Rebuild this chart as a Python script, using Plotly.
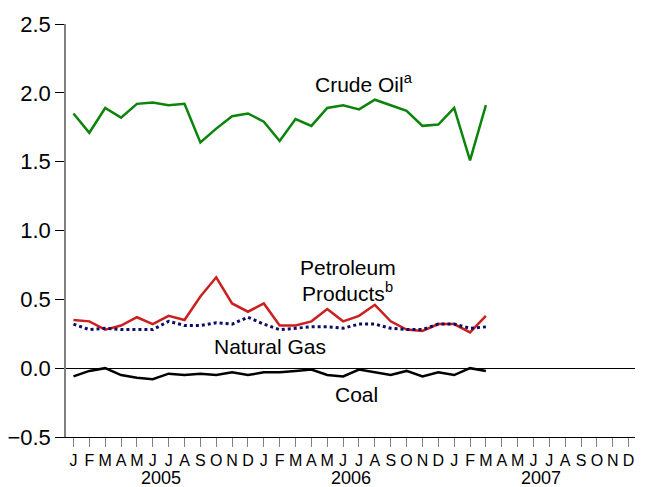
import plotly.graph_objects as go

months = ["J", "F", "M", "A", "M", "J", "J", "A", "S", "O", "N", "D"] * 3
years = ["2005", "2006", "2007"]

crude_oil = [1.85, 1.71, 1.89, 1.82, 1.92, 1.93, 1.91, 1.92, 1.64, 1.74, 1.83, 1.85,
             1.79, 1.65, 1.81, 1.76, 1.89, 1.91, 1.88, 1.95, 1.91, 1.87, 1.76, 1.77,
             1.89, 1.51, 1.91]
petroleum = [0.35, 0.34, 0.28, 0.31, 0.37, 0.32, 0.38, 0.35, 0.52, 0.66, 0.47, 0.41,
             0.47, 0.31, 0.31, 0.34, 0.43, 0.34, 0.38, 0.46, 0.34, 0.28, 0.27, 0.32,
             0.32, 0.26, 0.38]
natural_gas = [0.32, 0.28, 0.29, 0.28, 0.28, 0.28, 0.34, 0.31, 0.31, 0.33, 0.32, 0.37,
               0.32, 0.28, 0.29, 0.30, 0.30, 0.29, 0.32, 0.32, 0.29, 0.28, 0.28, 0.32,
               0.32, 0.29, 0.30]
coal = [-0.06, -0.02, 0.00, -0.05, -0.07, -0.08, -0.04, -0.05, -0.04, -0.05, -0.03, -0.05,
        -0.03, -0.03, -0.02, -0.01, -0.05, -0.06, -0.01, -0.03, -0.05, -0.02, -0.06, -0.03,
        -0.05, 0.00, -0.02]

x = list(range(len(crude_oil)))

fig = go.Figure()
fig.add_trace(go.Scatter(x=x, y=crude_oil, mode="lines", line=dict(color="#0a840a", width=2.5)))
fig.add_trace(go.Scatter(x=x, y=petroleum, mode="lines", line=dict(color="#cc1f1f", width=2.5)))
fig.add_trace(go.Scatter(x=x, y=natural_gas, mode="lines",
                         line=dict(color="#0d0d66", width=3, dash="dot")))
fig.add_trace(go.Scatter(x=x, y=coal, mode="lines", line=dict(color="black", width=2.5)))

font = dict(family="Liberation Sans, Arial", color="black")

# page body has an 8px margin, so shift the figure up/left by that much
fig.update_layout(
    width=639, height=479,
    margin=dict(l=58, r=12, t=16, b=50, autoexpand=False),
    plot_bgcolor="white", paper_bgcolor="white",
    showlegend=False,
    font=font,
    xaxis=dict(range=[-0.47, 35.4], tickmode="array", tickvals=list(range(36)),
               ticktext=months, showgrid=False, zeroline=False,
               showline=True, linecolor="black", linewidth=1,
               ticks="outside", ticklen=9, tickcolor="#808080",
               tickfont=dict(size=16, **font)),
    yaxis=dict(range=[-0.5, 2.5], tickvals=[-0.5, 0, 0.5, 1.0, 1.5, 2.0, 2.5],
               tickformat=".1f", showgrid=False, zeroline=True,
               zerolinecolor="black", zerolinewidth=1,
               showline=True, linecolor="#808080", linewidth=1.5,
               ticks="outside", ticklen=9, tickcolor="black",
               tickfont=dict(size=22, **font)),
)

for i, yr in enumerate(years):
    fig.add_annotation(x=5.5 + 12 * i, y=-0.099, xref="x", yref="paper", text=yr,
                       showarrow=False, yanchor="middle", font=dict(size=18, **font))

labels = [
    (18.3, 2.07, "Crude Oil<sup>a</sup>"),
    (17.3, 0.73, "Petroleum"),
    (17.3, 0.555, "Products<sup>b</sup>"),
    (12.4, 0.16, "Natural Gas"),
    (17.85, -0.19, "Coal"),
]
for lx, ly, txt in labels:
    fig.add_annotation(x=lx, y=ly, text=txt, showarrow=False, font=dict(size=21, **font))

fig.write_html("out.html")
